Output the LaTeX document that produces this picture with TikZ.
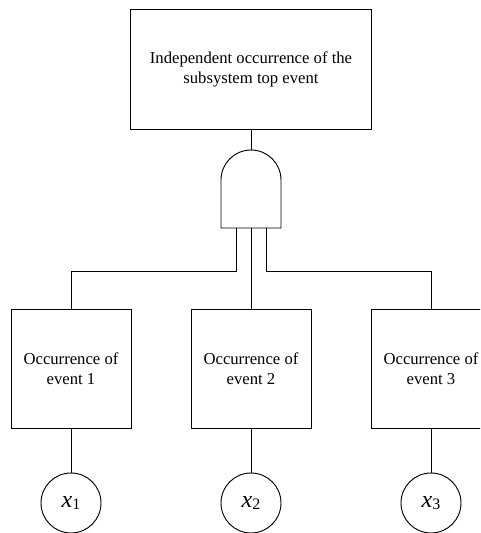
\documentclass[tikz,border=0pt]{standalone}
\usepackage{fontspec}
\setmainfont{Liberation Serif}
\begin{document}
\begin{tikzpicture}[x=0.75pt,y=0.75pt,
  wire/.style={line width=0.7pt},
  eventbox/.style={draw, line width=0.7pt, rectangle, align=center, inner sep=0pt,
    font=\fontsize{12.5}{15}\selectfont},
  basic/.style={draw, line width=0.7pt, circle, inner sep=0pt, minimum size=45pt}]
\useasboundingbox (0,0) rectangle (480,533);
\clip (0,0) rectangle (480,533);

% top event
\node[eventbox, minimum width=180.75pt, minimum height=90pt] (top) at (251,464)
  {Independent occurrence of the\\subsystem top event};

% AND gate
\coordinate (gtop) at (251,383);
\draw[wire] (221,305) -- (221,353) arc (180:0:30) -- (281,305) -- cycle;
\coordinate (g1) at (236,305);
\coordinate (g2) at (251,305);
\coordinate (g3) at (266,305);

% intermediate events
\node[eventbox, minimum width=90pt, minimum height=89.25pt] (e1) at (71,164.5)
  {Occurrence of\\event 1};
\node[eventbox, minimum width=90pt, minimum height=89.25pt] (e2) at (251,164.5)
  {Occurrence of\\event 2};
\node[eventbox, minimum width=90pt, minimum height=89.25pt] (e3) at (431,164.5)
  {Occurrence of\\event 3};

% basic events
\node[basic] (x1) at (71,30)
  {{\fontsize{18}{18}\selectfont\itshape x}\raisebox{-1.5pt}{\fontsize{12}{12}\selectfont 1}};
\node[basic] (x2) at (251,30)
  {{\fontsize{18}{18}\selectfont\itshape x}\raisebox{-1.5pt}{\fontsize{12}{12}\selectfont 2}};
\node[basic] (x3) at (431,30)
  {{\fontsize{18}{18}\selectfont\itshape x}\raisebox{-1.5pt}{\fontsize{12}{12}\selectfont 3}};

% connectors
\draw[wire] (top.south) -- (gtop);
\draw[wire] (g1) |- (71,262) -- (e1.north);
\draw[wire] (g2) -- (e2.north);
\draw[wire] (g3) |- (431,262) -- (e3.north);
\draw[wire] (e1.south) -- (x1.north);
\draw[wire] (e2.south) -- (x2.north);
\draw[wire] (e3.south) -- (x3.north);
\end{tikzpicture}
\end{document}
